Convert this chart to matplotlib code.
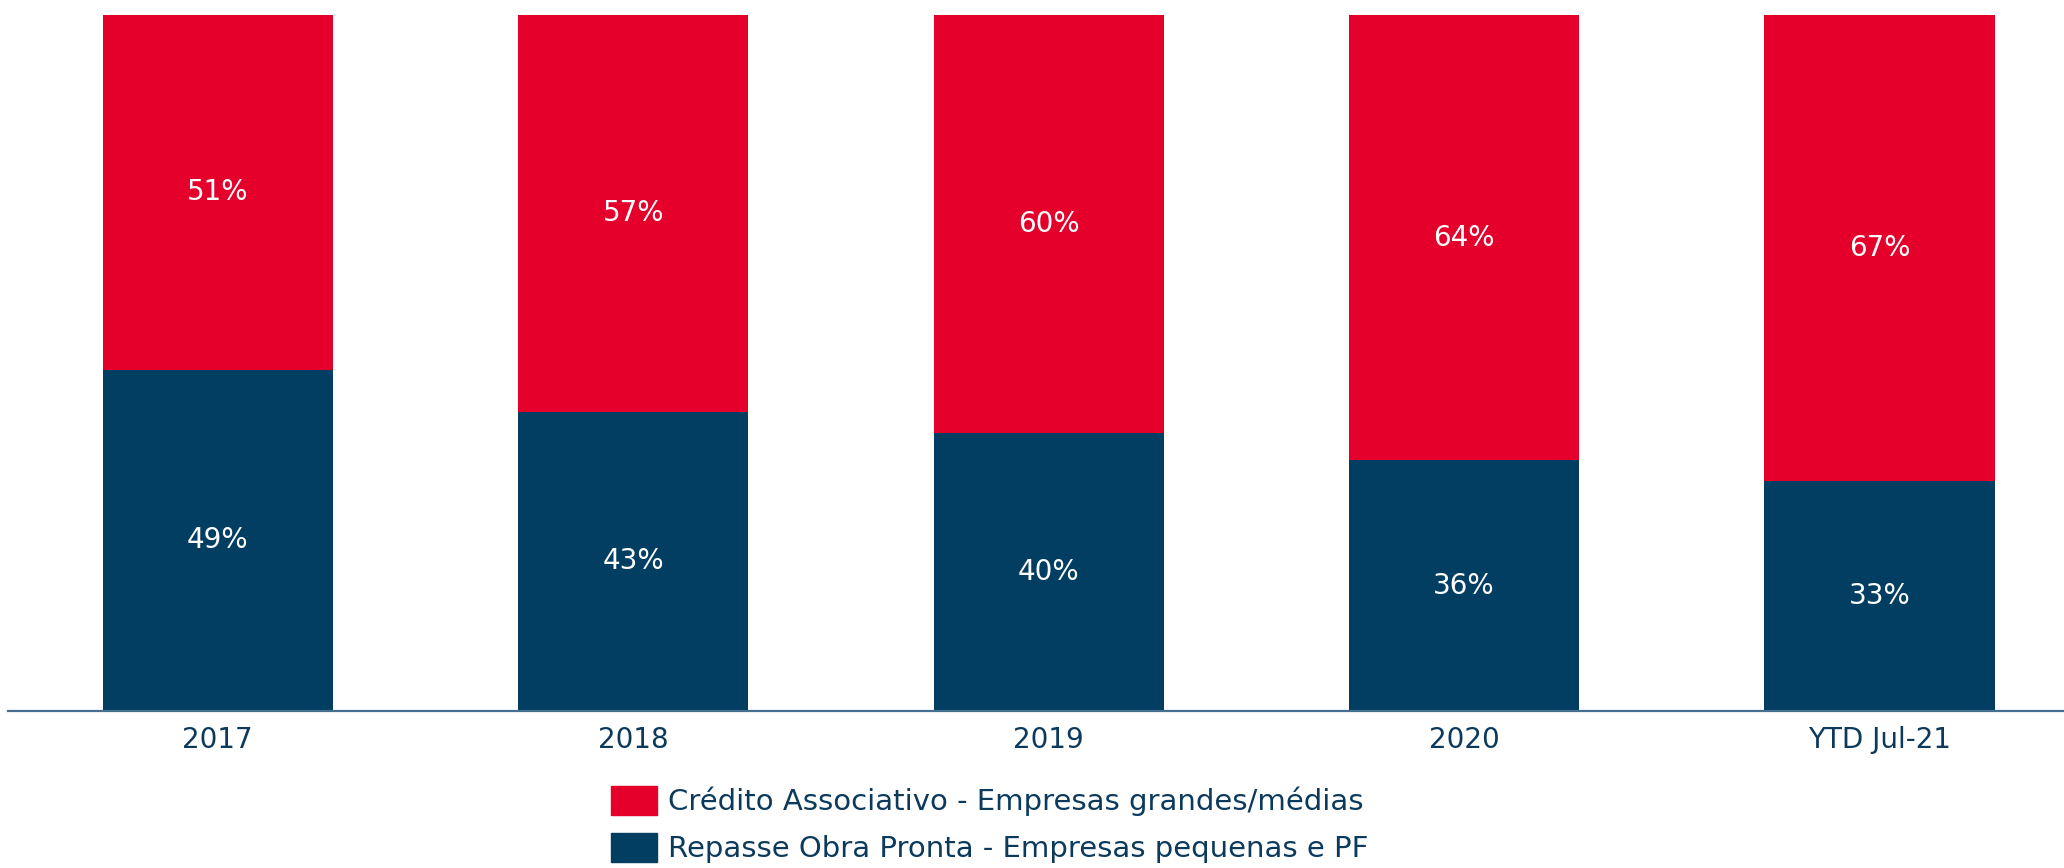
import matplotlib
matplotlib.use("Agg")
import matplotlib.pyplot as plt
from matplotlib.patches import Patch

categories = ["2017", "2018", "2019", "2020", "YTD Jul-21"]
repasse = [49, 43, 40, 36, 33]
credito = [51, 57, 60, 64, 67]
label_credito = "Crédito Associativo - Empresas grandes/médias"
label_repasse = "Repasse Obra Pronta - Empresas pequenas e PF"

RED = "#E4002B"
NAVY = "#023E62"
TXT = "#0B3A5C"

plt.rcParams['font.family'] = ['DejaVu Sans']

W, H = 2064, 868
fig = plt.figure(figsize=(W/100, H/100), dpi=100)
ax_left, ax_right = 8, 2064
ax_bottom, ax_top = 711, 15
ax = fig.add_axes([ax_left/W, 1 - ax_bottom/H, (ax_right-ax_left)/W, (ax_bottom-ax_top)/H])

x = list(range(len(categories)))
bw = 0.554
ax.bar(x, repasse, width=bw, color=NAVY, label=label_repasse)
ax.bar(x, credito, width=bw, bottom=repasse, color=RED, label=label_credito)

for i in x:
    ax.text(i, repasse[i]/2, f"{repasse[i]}%", ha='center', va='center', color='white', fontsize=20)
    ax.text(i, repasse[i] + credito[i]/2, f"{credito[i]}%", ha='center', va='center', color='white', fontsize=20)

ax.set_xlim(-0.505, 4.444)
ax.set_ylim(0, 100)
ax.set_xticks(x)
ax.set_xticklabels(categories, fontsize=20, color=TXT)
ax.tick_params(axis='x', length=0, pad=11)
ax.set_yticks([])
for s in ['top', 'right', 'left']:
    ax.spines[s].set_visible(False)
ax.spines['bottom'].set_color('#46708F')
ax.spines['bottom'].set_linewidth(1.6)

handles = [Patch(color=RED), Patch(color=NAVY)]
fs = 21
fpx = fs * 100 / 72
fig.legend(handles, [label_credito, label_repasse], loc='upper left',
           bbox_to_anchor=(610.7/W, 1 - 786/H), frameon=False, fontsize=fs,
           handlelength=46/fpx, handleheight=34/fpx, handletextpad=0.4,
           labelspacing=0.56, borderpad=0, borderaxespad=0, labelcolor=TXT)

fig.savefig("out.png", dpi=100)
